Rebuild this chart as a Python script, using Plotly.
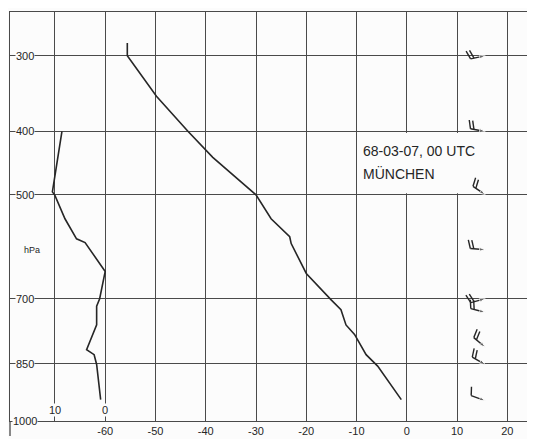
import math
import plotly.graph_objects as go

# ---------------- data ----------------
# Temperature profile (hPa, deg C)
temp_p = [285, 300, 351, 400, 439, 500, 542, 575, 588, 647, 703, 724, 758, 780, 828, 856, 942]
temp_c = [-55.6, -55.6, -49.8, -43.5, -38.6, -30.0, -27.0, -23.3, -23.0, -20.0,
          -15.0, -13.1, -12.1, -10.4, -8.1, -5.8, -1.1]

# Dew-point depression profile (hPa, K)
dd_p = [400, 495, 501, 542, 579, 586, 643, 700, 716, 758, 816, 828, 852, 942]
dd_k = [8.6, 10.5, 10.0, 8.0, 5.7, 4.0, 0.0, 1.1, 1.7, 1.7, 3.7, 2.2, 1.7, 0.9]

# Winds (hPa, direction from in deg, speed in kt)
wind_p = [300, 400, 500, 600, 700, 730, 810, 852, 945]
wind_dir = [258, 280, 305, 275, 255, 285, 310, 300, 290]
wind_kt = [20, 20, 20, 20, 20, 20, 20, 20, 10]

p_levels = [300, 400, 500, 700, 850, 1000]
p_labels = ["300", "400", "500", "700", "850", "1000"]
t_ticks = [-70, -60, -50, -40, -30, -20, -10, 0, 10, 20]
t_labels = ["", "-60", "-50", "-40", "-30", "-20", "-10", "0", "10", "20"]
dd_ticks = [10, 0]
dd_labels = ["10", "0"]
title_lines = ["68-03-07, 00 UTC", "MÜNCHEN"]

# ---------------- styling / scales ----------------
WIN_W, WIN_H = 535, 439
OFF = 8                      # default page body margin
PL, PR, PT, PB = 10, 533, 12, 424   # plot area in window pixels
W, H = WIN_W - OFF, WIN_H - OFF
ML, MR, MT, MB = PL - OFF, WIN_W - PR, PT - OFF, WIN_H - PB
KAPPA = 0.3
BG = "#fcfcfc"
GRID = "#4a4a4a"
INK = "#262626"
FONT = "Liberation Sans, Arial, sans-serif"


def py(p):
    return p ** KAPPA


def xp(xpix):
    return (xpix - PL) / (PR - PL)


def yp(ypix):
    return (PB - ypix) / (PB - PT)


x_range = [-78.934, 24.90]
y_bottom = py(1000)
y_range = [y_bottom, y_bottom - 2.6966]
dd_range = [-60 - x_range[0], -60 - x_range[1]]

plot_w = PR - PL
plot_h = PB - PT
ppu_x = plot_w / (x_range[1] - x_range[0])
ppu_y = plot_h / (y_range[0] - y_range[1])

fig = go.Figure()

# temperature curve
fig.add_trace(go.Scatter(x=temp_c, y=[py(p) for p in temp_p], mode="lines",
                         line=dict(color=INK, width=1.6), hoverinfo="skip",
                         showlegend=False))

# dew-point depression curve on its own (reversed) x scale
fig.add_trace(go.Scatter(x=dd_k, y=[py(p) for p in dd_p], mode="lines",
                         xaxis="x2", line=dict(color=INK, width=1.6),
                         hoverinfo="skip", showlegend=False))

# wind barbs
station_t = 15.6
staff_len = 15.0
feather_len = 9.0
feather_gap = 3.5
lean = math.radians(18)
fx, fy = [], []
for p, d_from, spd in zip(wind_p, wind_dir, wind_kt):
    th = math.radians(d_from)
    dx, dy = math.sin(th), -math.cos(th)        # screen direction toward tail
    px_, py_ = -dy, dx                          # right-hand perpendicular
    sx, sy = station_t, py(p)

    def to_data(ox, oy):
        return sx + ox / ppu_x, sy + oy / ppu_y

    tx, ty = to_data(staff_len * dx, staff_len * dy)
    fig.add_trace(go.Scatter(
        x=[tx, sx], y=[ty, sy], mode="lines+markers",
        line=dict(color=INK, width=1.5),
        marker=dict(symbol="arrow", size=[0, 6], angleref="previous", color=INK),
        hoverinfo="skip", showlegend=False))
    vx = px_ * math.cos(lean) + dx * math.sin(lean)
    vy = py_ * math.cos(lean) + dy * math.sin(lean)
    n_full = spd // 10
    half = (spd % 10) >= 5
    for i in range(n_full + (1 if half else 0)):
        along = staff_len - i * feather_gap
        L = feather_len if i < n_full else feather_len / 2
        x0, y0 = to_data(along * dx, along * dy)
        x1, y1 = to_data(along * dx + L * vx, along * dy + L * vy)
        fx += [x0, x1, None]
        fy += [y0, y1, None]
fig.add_trace(go.Scatter(x=fx, y=fy, mode="lines", line=dict(color=INK, width=1.4),
                         hoverinfo="skip", showlegend=False))

# ---------------- annotations ----------------
ann = []
for lvl, lab in zip(p_levels, p_labels):
    ann.append(dict(x=xp(25), xref="paper", y=py(lvl), yref="y",
                    text=lab, showarrow=False, xanchor="center", yanchor="middle",
                    font=dict(family=FONT, size=11, color=INK), bgcolor=BG,
                    borderpad=0))
ann.append(dict(x=xp(22.5), xref="paper", y=yp(251.7), yref="paper", text="hPa",
                showarrow=False, font=dict(family=FONT, size=9, color=INK)))
for v, lab in zip(dd_ticks, dd_labels):
    ann.append(dict(x=v, xref="x2", y=yp(412.5), yref="paper",
                    text=lab, showarrow=False, xanchor="center", yanchor="middle",
                    font=dict(family=FONT, size=11, color=INK), bgcolor=BG,
                    borderpad=0))
for line, ypix in zip(title_lines, [151.7, 175.0]):
    ann.append(dict(x=xp(362), xref="paper", y=yp(ypix), yref="paper", text=line,
                    showarrow=False, xanchor="left", yanchor="middle",
                    font=dict(family=FONT, size=14, color=INK)))

shapes = [dict(type="rect", xref="x", yref="y", x0=-9.4, x1=16.5,
               y0=py(400) + 1.5 / ppu_y, y1=py(500) - 1.5 / ppu_y,
               fillcolor=BG, line=dict(width=0), layer="between")]
# frame sides continue below the 1000 hPa line
for xe in (0, 1):
    shapes.append(dict(type="line", xref="paper", yref="paper", x0=xe, x1=xe,
                       y0=0, y1=yp(WIN_H), line=dict(color=GRID, width=1.3)))

fig.update_layout(
    width=W, height=H,
    margin=dict(l=ML, r=MR, t=MT, b=MB, pad=0),
    paper_bgcolor=BG, plot_bgcolor=BG,
    showlegend=False,
    font=dict(family=FONT, color=INK),
    xaxis=dict(range=x_range, tickvals=t_ticks, ticktext=t_labels, ticks="",
               ticklen=0, ticklabelstandoff=0,
               showgrid=True, gridcolor=GRID, gridwidth=1.1, zeroline=False,
               showline=True, mirror=True, linecolor=GRID, linewidth=1.3,
               tickfont=dict(family=FONT, size=11, color=INK)),
    xaxis2=dict(range=dd_range, overlaying="x", visible=False),
    yaxis=dict(range=y_range, tickvals=[py(p) for p in p_levels],
               showticklabels=False, ticks="",
               showgrid=True, gridcolor=GRID, gridwidth=1.1, zeroline=False,
               showline=True, mirror=True, linecolor=GRID, linewidth=1.3),
    annotations=ann,
    shapes=shapes,
)

fig.write_html("out.html")
